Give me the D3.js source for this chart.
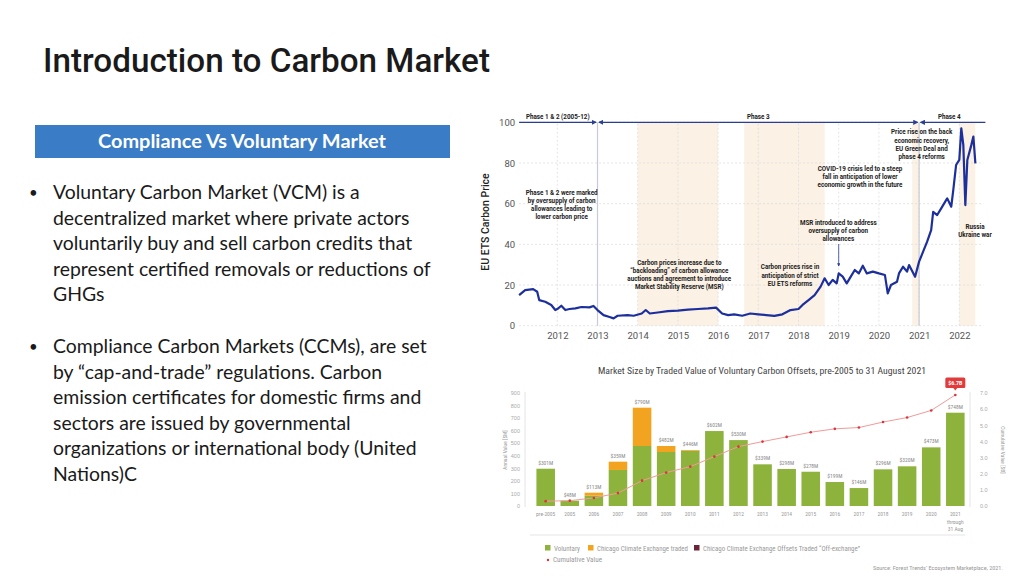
<!DOCTYPE html>
<meta charset="utf-8">
<script src="https://d3js.org/d3.v7.min.js"></script>
<body style="margin:0;background:#fff">
<svg id="slide" width="1024" height="576"></svg>
<script>
// slide text
const bullets = [
  ["Voluntary Carbon Market (VCM) is a",
   "decentralized market where private actors",
   "voluntarily buy and sell carbon credits that",
   "represent certified removals or reductions of",
   "GHGs"],
  ["Compliance Carbon Markets (CCMs), are set",
   "by \u201ccap-and-trade\u201d regulations. Carbon",
   "emission certificates for domestic firms and",
   "sectors are issued by governmental",
   "organizations or international body (United",
   "Nations)C"]
];

// EU ETS price (decimal year, EUR)
const priceYears = [2011.05,2011.2,2011.4,2011.5,2011.55,2011.7,2011.85,2011.95,2012.0,2012.1,2012.2,2012.3,2012.45,2012.6,2012.8,2012.9,
  2013.0,2013.15,2013.3,2013.4,2013.5,2013.75,2013.9,2014.1,2014.2,2014.3,2014.5,2014.75,2015.0,2015.25,2015.5,2015.75,2015.95,
  2016.1,2016.25,2016.4,2016.6,2016.8,2017.0,2017.2,2017.4,2017.6,2017.8,2018.0,2018.1,2018.25,2018.4,2018.55,2018.65,2018.75,2018.85,2018.95,
  2019.0,2019.1,2019.2,2019.3,2019.4,2019.5,2019.6,2019.7,2019.85,2020.0,2020.15,2020.22,2020.3,2020.45,2020.5,2020.6,2020.7,2020.75,2020.9,
  2021.0,2021.1,2021.2,2021.3,2021.35,2021.45,2021.55,2021.65,2021.7,2021.8,2021.85,2021.92,2022.0,2022.05,2022.1,2022.15,2022.2,2022.3,2022.35,2022.4];
const prices = [15,17.5,18,16.7,12.6,11.8,10.2,7.7,8.2,9.8,7.7,8.2,8.5,9.2,9,9.7,
  7.7,5.2,4.3,3.6,4.9,5.2,4.9,6,7.7,6,6.5,7.2,7.4,7.9,8.2,8.5,8.9,
  6,5.2,5.6,4.9,6,5.6,5.2,4.8,5.6,7.7,8.2,10.2,12.6,15,19.2,23.3,20,22.5,20.8,
  25.7,24.1,20.8,24.1,27.4,25.7,29.5,25.7,26.6,25.7,24.9,15.9,20,21.6,25.7,29,26.6,29.8,24.1,
  31.5,36.4,41.3,47,56,54.4,57.7,61,62.6,58.5,66.7,79,81.5,97,88.9,59.3,81.5,88.9,93,79.8];
const priceTicksX = d3.range(2012, 2023);
const priceTicksY = [0,20,40,60,80,100];
const shadedPeriods = [[2014.0,2016.0],[2016.65,2018.65],[2020.83,2021.0],[2022.0,2022.4]];
const phaseBreaks = [2011.05, 2013, 2021, 2022.65];
const phaseNames = ["Phase 1 & 2 (2005-12)","Phase 3","Phase 4"];
const phaseLabelX = [2012.0, 2017.0, 2022.0];

// voluntary offsets bar chart
const categories = ["pre-2005","2005","2006","2007","2008","2009","2010","2011","2012","2013","2014","2015","2016","2017","2018","2019","2020","2021"];
const voluntary = [297,42,82,287,478,430,440,597,525,332,295,273,191,143,292,316,467,743];
const ccxTraded = [0,0,24,66,305,48,6,0,0,0,0,0,0,0,0,0,0,0];
const barLabels = ["$301M","$48M","$113M","$359M","$790M","$482M","$446M","$602M","$530M","$339M","$298M","$278M","$199M","$146M","$296M","$320M","$473M","$748M"];
const cumulative = [0.3,0.33,0.5,0.8,1.57,2.07,2.44,3.06,3.68,3.99,4.28,4.57,4.78,4.86,5.2,5.48,5.92,6.88];
const annualTicks = [0,100,200,300,400,500,600,700,800,900];
const cumTicks = [0,1,2,3,4,5,6,7];

const svg = d3.select("#slide");

// ---------- left side ----------
svg.append("text").attr("x", 43).attr("y", 72)
  .attr("font-family", "Roboto").attr("font-weight", 500).attr("font-size", 33)
  .attr("fill", "#1a1a1a").attr("textLength", 447).attr("lengthAdjust", "spacingAndGlyphs")
  .text("Introduction to Carbon Market");

svg.append("rect").attr("x", 35).attr("y", 125).attr("width", 415).attr("height", 33).attr("fill", "#3a7cc6");
svg.append("text").attr("x", 242).attr("y", 148).attr("text-anchor", "middle")
  .attr("font-family", "Lato").attr("font-weight", 700).attr("font-size", 18.5).attr("fill", "#fff")
  .attr("textLength", 288).attr("lengthAdjust", "spacingAndGlyphs")
  .text("Compliance Vs Voluntary Market");

const bulletTop = [199, 353];
bullets.forEach((lines, i) => {
  svg.append("text").attr("x", 29).attr("y", bulletTop[i] - 1).attr("font-family", "Lato")
    .attr("font-size", 15).attr("fill", "#1a1a1a").text("\u2022");
  svg.append("g").selectAll("text").data(lines).join("text")
    .attr("x", 53).attr("y", (d, j) => bulletTop[i] + j * 25.6)
    .attr("font-family", "Lato").attr("font-size", 19.4).attr("fill", "#1a1a1a")
    .text(d => d);
});

// ---------- EU ETS price chart ----------
const x = d3.scaleLinear().domain([2012, 2022]).range([557.3, 959.3]);
const y = d3.scaleLinear().domain([0, 100]).range([325.7, 122.3]);
const priceG = svg.append("g").attr("font-family", "Roboto");

priceG.selectAll("rect.band").data(shadedPeriods).join("rect")
  .attr("x", d => x(d[0])).attr("width", d => x(d[1]) - x(d[0]))
  .attr("y", y(100)).attr("height", y(0) - y(100)).attr("fill", "#fbf1e4");

priceG.selectAll("line.hg").data(priceTicksY).join("line")
  .attr("x1", x(2011.05)).attr("x2", x(2022.6)).attr("y1", d => y(d)).attr("y2", d => y(d))
  .attr("stroke", "#ddd").attr("stroke-width", 0.8).attr("stroke-dasharray", "2,2");
priceG.selectAll("line.vg").data(priceTicksX).join("line")
  .attr("x1", d => x(d)).attr("x2", d => x(d)).attr("y1", y(0)).attr("y2", y(100))
  .attr("stroke", "#ddd").attr("stroke-width", 0.8).attr("stroke-dasharray", "2,2");
priceG.selectAll("line.pb").data([2013, 2021]).join("line")
  .attr("x1", d => x(d)).attr("x2", d => x(d)).attr("y1", y(0)).attr("y2", y(100))
  .attr("stroke", "#c5ccd6").attr("stroke-width", 1.2);

priceG.append("g").attr("transform", `translate(0,${y(0)})`)
  .call(d3.axisBottom(x).tickValues(priceTicksX).tickFormat(d3.format("d")).tickSize(0).tickPadding(7))
  .call(g => g.select(".domain").remove())
  .selectAll("text").attr("font-size", 9.5).attr("fill", "#555").attr("font-family", "Roboto");
priceG.append("g").attr("transform", `translate(${x(2011.05) - 2},0)`)
  .call(d3.axisLeft(y).tickValues(priceTicksY).tickSize(0).tickPadding(2))
  .call(g => g.select(".domain").remove())
  .selectAll("text").attr("font-size", 9.5).attr("fill", "#555").attr("font-family", "Roboto");

priceG.append("text").attr("transform", `translate(489,222) rotate(-90)`).attr("text-anchor", "middle")
  .attr("font-size", 10.5).attr("font-weight", 500).attr("fill", "#222").text("EU ETS Carbon Price");

// phase arrows
const defs = svg.append("defs");
defs.append("marker").attr("id", "ah").attr("viewBox", "0 0 6 6").attr("refX", 5).attr("refY", 3)
  .attr("markerWidth", 4).attr("markerHeight", 4).attr("orient", "auto-start-reverse")
  .append("path").attr("d", "M0,0L6,3L0,6Z").attr("fill", "#2a3f93");
d3.pairs(phaseBreaks).forEach((p, i) => {
  priceG.append("line").attr("x1", x(p[0]) + (i ? 1.5 : 0)).attr("x2", x(p[1]) - (i < 2 ? 1.5 : 0))
    .attr("y1", y(100)).attr("y2", y(100)).attr("stroke", "#2a3f93").attr("stroke-width", 1.3)
    .attr("marker-start", i ? "url(#ah)" : null).attr("marker-end", i < 2 ? "url(#ah)" : null);
});
priceG.selectAll("text.phase").data(phaseNames).join("text")
  .attr("x", (d, i) => x(phaseLabelX[i]) + (i === 0 ? 0.5 : 0) - (i === 2 ? 10 : 0)).attr("y", 118.5)
  .attr("text-anchor", "middle").attr("font-size", 6.3).attr("font-weight", 700).attr("fill", "#222").text(d => d);

priceG.append("path").datum(priceYears.map((d, i) => [d, prices[i]]))
  .attr("d", d3.line().x(d => x(d[0])).y(d => y(d[1])))
  .attr("fill", "none").attr("stroke", "#1c2f9c").attr("stroke-width", 2.2).attr("stroke-linejoin", "round");

// annotations
const notes = [
  {cx: 921.7, cy: 132, lines: ["Price rise on the back", "economic recovery,", "EU Green Deal and", "phase 4 reforms"]},
  {cx: 860, cy: 168.5, lines: ["COVID-19 crisis led to a steep", "fall in anticipation of lower", "economic growth in the future"]},
  {cx: 561.7, cy: 192.5, lines: ["Phase 1 & 2 were marked", "by oversupply of carbon", "allowances leading to", "lower carbon price"]},
  {cx: 838.3, cy: 222.3, lines: ["MSR introduced to address", "oversupply of carbon", "allowances"]},
  {cx: 975, cy: 226.7, lines: ["Russia", "Ukraine war"]},
  {cx: 679.3, cy: 262.3, lines: ["Carbon prices increase due to", "\u201cbackloading\u201d of carbon allowance", "auctions and agreement to introduce", "Market Stability Reserve (MSR)"]},
  {cx: 790, cy: 267, lines: ["Carbon prices rise in", "anticipation of strict", "EU ETS reforms"]}
];
notes.forEach(n => {
  priceG.append("g").selectAll("text").data(n.lines).join("text")
    .attr("x", n.cx).attr("y", (d, j) => n.cy + 2.3 + j * 8.2).attr("text-anchor", "middle")
    .attr("font-size", 6.3).attr("font-weight", 700).attr("fill", "#222").text(d => d);
});
priceG.append("line").attr("x1", x(2019)).attr("x2", x(2019)).attr("y1", 244).attr("y2", 266)
  .attr("stroke", "#2a3f93").attr("stroke-width", 0.8).attr("marker-end", "url(#ah)");

// ---------- voluntary carbon offsets chart ----------
const xb = d3.scaleBand().domain(categories).range([534, 967]).paddingInner(0.23).paddingOuter(0.1);
const yb = d3.scaleLinear().domain([0, 900]).range([506, 393]);
const yc = d3.scaleLinear().domain([0, 7]).range([506, 393]);
const bot = svg.append("g").attr("font-family", "Roboto Condensed, Liberation Sans Narrow, Roboto");

bot.append("text").attr("x", 762).attr("y", 374).attr("text-anchor", "middle")
  .attr("font-size", 9).attr("fill", "#444").attr("textLength", 328).attr("lengthAdjust", "spacingAndGlyphs")
  .text("Market Size by Traded Value of Voluntary Carbon Offsets, pre-2005 to 31 August 2021");

bot.append("line").attr("x1", 525).attr("x2", 525).attr("y1", 392).attr("y2", 507).attr("stroke", "#e4e4e4");
bot.append("line").attr("x1", 970).attr("x2", 970).attr("y1", 392).attr("y2", 507).attr("stroke", "#e4e4e4");
bot.append("line").attr("x1", 530).attr("x2", 965).attr("y1", 535).attr("y2", 535).attr("stroke", "#eee").attr("stroke-width", 1.5);

bot.append("g").attr("transform", "translate(522,0)")
  .call(d3.axisLeft(yb).tickValues(annualTicks).tickSize(0).tickPadding(2))
  .call(g => g.select(".domain").remove())
  .selectAll("text").attr("font-size", 5.5).attr("fill", "#aaa");
bot.append("g").attr("transform", "translate(978,0)")
  .call(d3.axisRight(yc).tickValues(cumTicks).tickFormat(d3.format(".1f")).tickSize(0).tickPadding(2))
  .call(g => g.select(".domain").remove())
  .selectAll("text").attr("font-size", 5.5).attr("fill", "#aaa");
bot.append("text").attr("transform", "translate(507,450) rotate(-90)").attr("text-anchor", "middle")
  .attr("font-size", 5.5).attr("fill", "#999").text("Annual Value [$M]");
bot.append("text").attr("transform", "translate(1001,450) rotate(90)").attr("text-anchor", "middle")
  .attr("font-size", 5.5).attr("fill", "#999").text("Cumulative Value [$B]");

bot.selectAll("rect.vol").data(categories).join("rect")
  .attr("x", d => xb(d)).attr("width", xb.bandwidth())
  .attr("y", (d, i) => yb(voluntary[i])).attr("height", (d, i) => yb(0) - yb(voluntary[i]))
  .attr("fill", "#8db33c");
bot.selectAll("rect.ccx").data(categories).join("rect")
  .attr("x", d => xb(d)).attr("width", xb.bandwidth())
  .attr("y", (d, i) => yb(voluntary[i] + ccxTraded[i])).attr("height", (d, i) => yb(0) - yb(ccxTraded[i]))
  .attr("fill", "#f2a31f");
bot.selectAll("text.bl").data(categories).join("text")
  .attr("x", d => xb(d) + xb.bandwidth() / 2).attr("y", (d, i) => yb(voluntary[i] + ccxTraded[i]) - 4)
  .attr("text-anchor", "middle").attr("font-size", 5.5).attr("fill", "#888")
  .text((d, i) => barLabels[i]);
bot.selectAll("text.cat").data(categories).join("text")
  .attr("x", d => xb(d) + xb.bandwidth() / 2).attr("y", 516)
  .attr("text-anchor", "middle").attr("font-size", 5.5).attr("fill", "#999").text(d => d);
bot.selectAll("text.thr").data(["through", "31 Aug"]).join("text")
  .attr("x", xb("2021") + xb.bandwidth() / 2).attr("y", (d, i) => 523.5 + i * 7.5)
  .attr("text-anchor", "middle").attr("font-size", 5.5).attr("fill", "#999").text(d => d);

bot.append("path").datum(cumulative)
  .attr("d", d3.line().x((d, i) => xb(categories[i]) + xb.bandwidth() / 2).y(d => yc(d)))
  .attr("fill", "none").attr("stroke", "#f29a9a").attr("stroke-width", 1);
bot.selectAll("circle.cum").data(cumulative).join("circle")
  .attr("cx", (d, i) => xb(categories[i]) + xb.bandwidth() / 2).attr("cy", d => yc(d)).attr("r", 1.3)
  .attr("fill", "#d8353d");

// callout
const lastX = xb("2021") + xb.bandwidth() / 2;
bot.append("rect").attr("x", lastX - 10).attr("y", 377.5).attr("width", 20).attr("height", 10.5).attr("rx", 1.5).attr("fill", "#e23b3b");
bot.append("path").attr("d", `M${lastX - 2},388L${lastX + 2},388L${lastX},390.5Z`).attr("fill", "#e23b3b");
bot.append("text").attr("x", lastX).attr("y", 385.3).attr("text-anchor", "middle")
  .attr("font-size", 6).attr("font-weight", 700).attr("fill", "#fff").text("$6.7B");

// legend
const legendItems = [
  {x: 545, label: "Voluntary", color: "#8db33c", w: 26},
  {x: 588, label: "Chicago Climate Exchange traded", color: "#f2a31f", w: 91},
  {x: 694, label: "Chicago Climate Exchange Offsets Traded \u201cOff-exchange\u201d", color: "#6b2439", w: 157}
];
legendItems.forEach(l => {
  bot.append("rect").attr("x", l.x).attr("y", 545).attr("width", 5.5).attr("height", 5.5).attr("fill", l.color);
  bot.append("text").attr("x", l.x + 9).attr("y", 550.5).attr("font-size", 6.5).attr("fill", "#999")
    .attr("textLength", l.w).attr("lengthAdjust", "spacingAndGlyphs").text(l.label);
});
bot.append("circle").attr("cx", 548).attr("cy", 560).attr("r", 1.2).attr("fill", "#d8353d");
bot.append("text").attr("x", 553).attr("y", 562).attr("font-size", 6.5).attr("fill", "#999")
  .attr("textLength", 49).attr("lengthAdjust", "spacingAndGlyphs").text("Cumulative Value");
bot.append("text").attr("x", 1003).attr("y", 570).attr("text-anchor", "end")
  .attr("font-size", 5.5).attr("fill", "#999").attr("textLength", 130).attr("lengthAdjust", "spacingAndGlyphs")
  .text("Source: Forest Trends\u2019 Ecosystem Marketplace, 2021.");
</script>
</body>
